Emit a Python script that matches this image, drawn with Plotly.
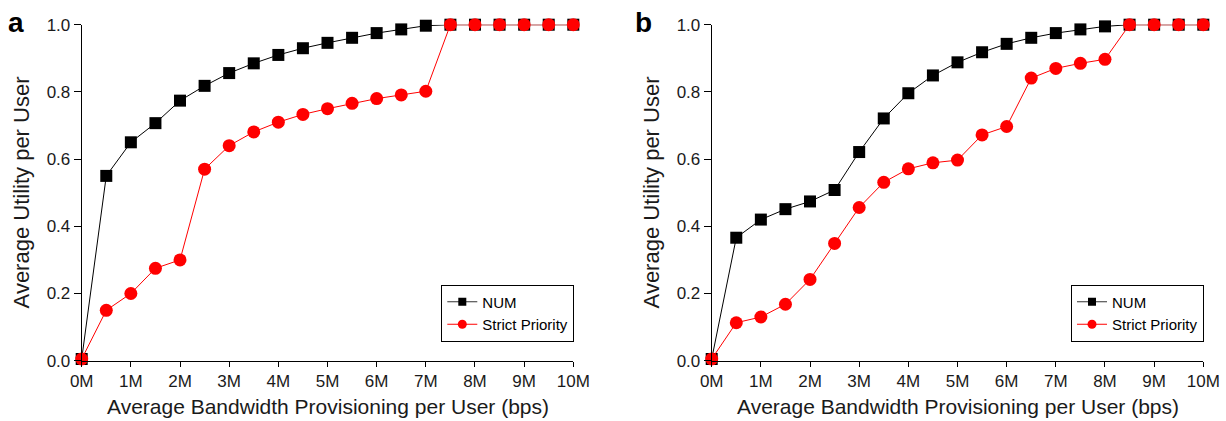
import plotly.graph_objects as go

bandwidth = [0, 0.5, 1, 1.5, 2, 2.5, 3, 3.5, 4, 4.5, 5, 5.5, 6, 6.5, 7, 7.5, 8, 8.5, 9, 9.5, 10]

num_a = [0.005, 0.55, 0.65, 0.707, 0.774, 0.818, 0.856, 0.885, 0.91, 0.93, 0.946, 0.961,
         0.975, 0.986, 0.997, 1.0, 1.0, 1.0, 1.0, 1.0, 1.0]
sp_a = [0.005, 0.15, 0.20, 0.275, 0.30, 0.57, 0.64, 0.681, 0.71, 0.733, 0.75, 0.766,
        0.78, 0.791, 0.802, 1.0, 1.0, 1.0, 1.0, 1.0, 1.0]

num_b = [0.005, 0.366, 0.42, 0.451, 0.474, 0.508, 0.621, 0.721, 0.796, 0.849, 0.888, 0.918,
         0.943, 0.961, 0.975, 0.986, 0.995, 1.0, 1.0, 1.0, 1.0]
sp_b = [0.005, 0.113, 0.13, 0.168, 0.242, 0.349, 0.456, 0.531, 0.571, 0.589, 0.597, 0.672,
        0.697, 0.841, 0.870, 0.885, 0.897, 1.0, 1.0, 1.0, 1.0]

x_tickvals = list(range(0, 11))
x_ticktext = [f"{v}M" for v in x_tickvals]
y_tickvals = [0, 0.2, 0.4, 0.6, 0.8, 1.0]
y_ticktext = ["0.0", "0.2", "0.4", "0.6", "0.8", "1.0"]

series_names = ["NUM", "Strict Priority"]
panel_labels = ["a", "b"]
x_title = "Average Bandwidth Provisioning per User (bps)"
y_title = "Average Utility per User"

W, H = 1226, 421
FONT = "Liberation Sans, Arial, sans-serif"
TXT = "#1a1a1a"
RED = "#ff0000"

fig = go.Figure()

panels = [
    (num_a, sp_a, "x", "y", "legend"),
    (num_b, sp_b, "x2", "y2", "legend2"),
]
for num, sp, xa, ya, lg in panels:
    # data traces
    fig.add_trace(go.Scatter(
        x=bandwidth, y=num, name=series_names[0], mode="lines+markers",
        xaxis=xa, yaxis=ya, showlegend=False, cliponaxis=False,
        line=dict(color="black", width=1),
        marker=dict(symbol="square", size=12, color="black"),
    ))
    fig.add_trace(go.Scatter(
        x=bandwidth, y=sp, name=series_names[1], mode="lines+markers",
        xaxis=xa, yaxis=ya, showlegend=False, cliponaxis=False,
        line=dict(color=RED, width=1),
        marker=dict(symbol="circle", size=13, color=RED),
    ))
    # legend entries (smaller legend symbols, as in the reference)
    fig.add_trace(go.Scatter(
        x=[None], y=[None], name=series_names[0], mode="lines+markers",
        xaxis=xa, yaxis=ya, legend=lg,
        line=dict(color="#333333", width=1),
        marker=dict(symbol="square", size=8, color="black"),
    ))
    fig.add_trace(go.Scatter(
        x=[None], y=[None], name=series_names[1], mode="lines+markers",
        xaxis=xa, yaxis=ya, legend=lg,
        line=dict(color=RED, width=1),
        marker=dict(symbol="circle", size=9, color=RED),
    ))

ytop = 1 - 24.7 / H
ybot = 1 - 360.7 / H
plot_px = [(81.7, 573.3), (711.7, 1203.3)]
doms = [(a / W, b / W) for a, b in plot_px]

xaxis_common = dict(
    range=[0, 10], tickvals=x_tickvals, ticktext=x_ticktext,
    showline=True, linecolor="black", linewidth=1, mirror=False,
    ticks="outside", ticklen=5, tickwidth=1, tickcolor="black",
    showgrid=False, zeroline=False, automargin=False,
    tickfont=dict(family=FONT, size=17, color=TXT),
)
yaxis_common = dict(
    range=[0, 1], tickvals=y_tickvals, ticktext=y_ticktext,
    showline=True, linecolor="black", linewidth=1, mirror=False,
    ticks="outside", ticklen=7, tickwidth=1, tickcolor="black",
    showgrid=False, zeroline=False, automargin=False,
    tickfont=dict(family=FONT, size=17, color=TXT),
)

legend_common = dict(
    yanchor="middle", xanchor="right",
    bordercolor="black", borderwidth=1, bgcolor="white",
    font=dict(family=FONT, size=15, color="black"),
    tracegroupgap=0, itemwidth=30,
    entrywidth=112, entrywidthmode="pixels",
)

fig.update_layout(
    width=W, height=H,
    margin=dict(l=0, r=0, t=0, b=0),
    paper_bgcolor="white", plot_bgcolor="white",
    xaxis=dict(domain=list(doms[0]), anchor="y", **xaxis_common),
    yaxis=dict(domain=[ybot, ytop], anchor="x", **yaxis_common),
    xaxis2=dict(domain=list(doms[1]), anchor="y2", **xaxis_common),
    yaxis2=dict(domain=[ybot, ytop], anchor="x2", **yaxis_common),
    legend=dict(x=574.3 / W, y=1 - 313 / H, **legend_common),
    legend2=dict(x=1204 / W, y=1 - 313 / H, **legend_common),
    showlegend=True,
)

for (l, r), lbl, lx in zip(plot_px, panel_labels, [16, 643]):
    # panel letter
    fig.add_annotation(
        text=f"<b>{lbl}</b>", x=lx / W, y=1 - 22.5 / H, xref="paper", yref="paper",
        showarrow=False, xanchor="center", yanchor="middle",
        font=dict(family=FONT, size=28, color="black"),
    )
    # x-axis title
    fig.add_annotation(
        text=x_title, x=(l + r) / 2 / W, y=1 - 406 / H, xref="paper", yref="paper",
        showarrow=False, xanchor="center", yanchor="middle",
        font=dict(family=FONT, size=21, color=TXT),
    )
    # y-axis title
    fig.add_annotation(
        text=y_title, x=(l - 60) / W, y=(ytop + ybot) / 2, xref="paper", yref="paper",
        showarrow=False, xanchor="center", yanchor="middle", textangle=-90,
        font=dict(family=FONT, size=22, color=TXT),
    )

fig.write_html("out.html")
